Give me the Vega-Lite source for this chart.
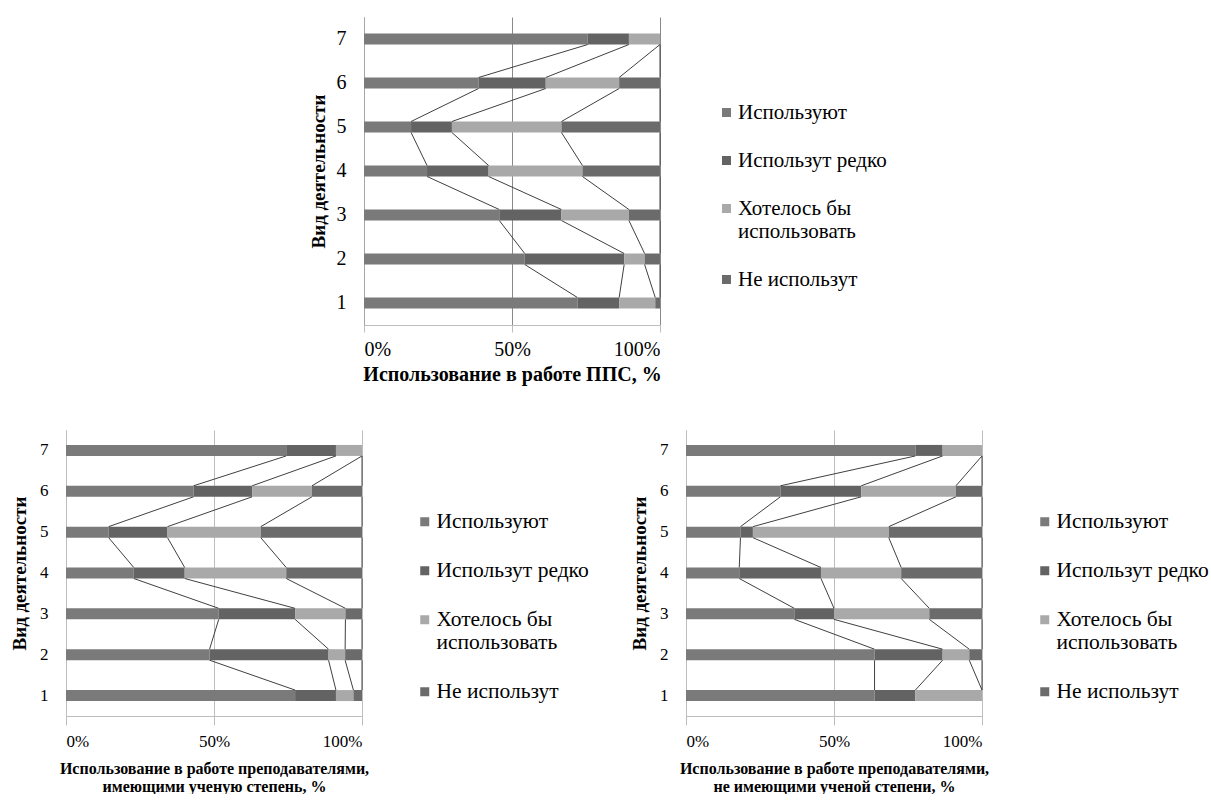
{
  "$schema": "https://vega.github.io/schema/vega-lite/v6.json",
  "padding": {"left": 10, "top": 17, "right": 0, "bottom": 0},
  "config": {
    "font": "Liberation Serif, Times New Roman, DejaVu Serif, serif",
    "view": {"stroke": null},
    "axis": {"labelFont": "Liberation Serif, Times New Roman, DejaVu Serif, serif", "titleFont": "Liberation Serif, Times New Roman, DejaVu Serif, serif", "labelColor": "#000000", "titleColor": "#000000", "titleFontWeight": "bold"},
    "legend": {"labelFont": "Liberation Serif, Times New Roman, DejaVu Serif, serif", "labelColor": "#000000", "symbolType": "square", "symbolSize": 81, "symbolStrokeWidth": 0, "rowPadding": 26, "labelLimit": 400, "labelOffset": 1, "title": null}
  },
  "datasets": {
    "d": [
      {"p": 1, "cat": 1, "k": 1, "s": "Используют", "v": 72.1},
      {"p": 1, "cat": 1, "k": 2, "s": "Использут редко", "v": 14.1},
      {"p": 1, "cat": 1, "k": 3, "s": "Хотелось бы использовать", "v": 12.2},
      {"p": 1, "cat": 1, "k": 4, "s": "Не использут", "v": 1.6},
      {"p": 1, "cat": 2, "k": 1, "s": "Используют", "v": 54.3},
      {"p": 1, "cat": 2, "k": 2, "s": "Использут редко", "v": 33.6},
      {"p": 1, "cat": 2, "k": 3, "s": "Хотелось бы использовать", "v": 6.9},
      {"p": 1, "cat": 2, "k": 4, "s": "Не использут", "v": 5.2},
      {"p": 1, "cat": 3, "k": 1, "s": "Используют", "v": 45.7},
      {"p": 1, "cat": 3, "k": 2, "s": "Использут редко", "v": 21.0},
      {"p": 1, "cat": 3, "k": 3, "s": "Хотелось бы использовать", "v": 22.8},
      {"p": 1, "cat": 3, "k": 4, "s": "Не использут", "v": 10.5},
      {"p": 1, "cat": 4, "k": 1, "s": "Используют", "v": 21.3},
      {"p": 1, "cat": 4, "k": 2, "s": "Использут редко", "v": 20.8},
      {"p": 1, "cat": 4, "k": 3, "s": "Хотелось бы использовать", "v": 31.7},
      {"p": 1, "cat": 4, "k": 4, "s": "Не использут", "v": 26.2},
      {"p": 1, "cat": 5, "k": 1, "s": "Используют", "v": 15.9},
      {"p": 1, "cat": 5, "k": 2, "s": "Использут редко", "v": 13.8},
      {"p": 1, "cat": 5, "k": 3, "s": "Хотелось бы использовать", "v": 37.0},
      {"p": 1, "cat": 5, "k": 4, "s": "Не использут", "v": 33.3},
      {"p": 1, "cat": 6, "k": 1, "s": "Используют", "v": 38.7},
      {"p": 1, "cat": 6, "k": 2, "s": "Использут редко", "v": 22.7},
      {"p": 1, "cat": 6, "k": 3, "s": "Хотелось бы использовать", "v": 24.8},
      {"p": 1, "cat": 6, "k": 4, "s": "Не использут", "v": 13.8},
      {"p": 1, "cat": 7, "k": 1, "s": "Используют", "v": 75.6},
      {"p": 1, "cat": 7, "k": 2, "s": "Использут редко", "v": 13.9},
      {"p": 1, "cat": 7, "k": 3, "s": "Хотелось бы использовать", "v": 10.5},
      {"p": 1, "cat": 7, "k": 4, "s": "Не использут", "v": 0},
      {"p": 2, "cat": 1, "k": 1, "s": "Используют", "v": 77.4},
      {"p": 2, "cat": 1, "k": 2, "s": "Использут редко", "v": 13.8},
      {"p": 2, "cat": 1, "k": 3, "s": "Хотелось бы использовать", "v": 5.9},
      {"p": 2, "cat": 1, "k": 4, "s": "Не использут", "v": 2.9},
      {"p": 2, "cat": 2, "k": 1, "s": "Используют", "v": 48.5},
      {"p": 2, "cat": 2, "k": 2, "s": "Использут редко", "v": 40.2},
      {"p": 2, "cat": 2, "k": 3, "s": "Хотелось бы использовать", "v": 5.6},
      {"p": 2, "cat": 2, "k": 4, "s": "Не использут", "v": 5.7},
      {"p": 2, "cat": 3, "k": 1, "s": "Используют", "v": 51.6},
      {"p": 2, "cat": 3, "k": 2, "s": "Использут редко", "v": 25.8},
      {"p": 2, "cat": 3, "k": 3, "s": "Хотелось бы использовать", "v": 17.0},
      {"p": 2, "cat": 3, "k": 4, "s": "Не использут", "v": 5.6},
      {"p": 2, "cat": 4, "k": 1, "s": "Используют", "v": 22.9},
      {"p": 2, "cat": 4, "k": 2, "s": "Использут редко", "v": 17.2},
      {"p": 2, "cat": 4, "k": 3, "s": "Хотелось бы использовать", "v": 34.3},
      {"p": 2, "cat": 4, "k": 4, "s": "Не использут", "v": 25.6},
      {"p": 2, "cat": 5, "k": 1, "s": "Используют", "v": 14.4},
      {"p": 2, "cat": 5, "k": 2, "s": "Использут редко", "v": 19.9},
      {"p": 2, "cat": 5, "k": 3, "s": "Хотелось бы использовать", "v": 31.5},
      {"p": 2, "cat": 5, "k": 4, "s": "Не использут", "v": 34.2},
      {"p": 2, "cat": 6, "k": 1, "s": "Используют", "v": 43.1},
      {"p": 2, "cat": 6, "k": 2, "s": "Использут редко", "v": 19.8},
      {"p": 2, "cat": 6, "k": 3, "s": "Хотелось бы использовать", "v": 20.2},
      {"p": 2, "cat": 6, "k": 4, "s": "Не использут", "v": 16.9},
      {"p": 2, "cat": 7, "k": 1, "s": "Используют", "v": 74.4},
      {"p": 2, "cat": 7, "k": 2, "s": "Использут редко", "v": 16.8},
      {"p": 2, "cat": 7, "k": 3, "s": "Хотелось бы использовать", "v": 8.8},
      {"p": 2, "cat": 7, "k": 4, "s": "Не использут", "v": 0},
      {"p": 3, "cat": 1, "k": 1, "s": "Используют", "v": 63.7},
      {"p": 3, "cat": 1, "k": 2, "s": "Использут редко", "v": 13.8},
      {"p": 3, "cat": 1, "k": 3, "s": "Хотелось бы использовать", "v": 22.5},
      {"p": 3, "cat": 1, "k": 4, "s": "Не использут", "v": 0},
      {"p": 3, "cat": 2, "k": 1, "s": "Используют", "v": 63.7},
      {"p": 3, "cat": 2, "k": 2, "s": "Использут редко", "v": 23.0},
      {"p": 3, "cat": 2, "k": 3, "s": "Хотелось бы использовать", "v": 9.0},
      {"p": 3, "cat": 2, "k": 4, "s": "Не использут", "v": 4.3},
      {"p": 3, "cat": 3, "k": 1, "s": "Используют", "v": 36.6},
      {"p": 3, "cat": 3, "k": 2, "s": "Использут редко", "v": 13.4},
      {"p": 3, "cat": 3, "k": 3, "s": "Хотелось бы использовать", "v": 32.2},
      {"p": 3, "cat": 3, "k": 4, "s": "Не использут", "v": 17.8},
      {"p": 3, "cat": 4, "k": 1, "s": "Используют", "v": 18.0},
      {"p": 3, "cat": 4, "k": 2, "s": "Использут редко", "v": 27.6},
      {"p": 3, "cat": 4, "k": 3, "s": "Хотелось бы использовать", "v": 27.1},
      {"p": 3, "cat": 4, "k": 4, "s": "Не использут", "v": 27.3},
      {"p": 3, "cat": 5, "k": 1, "s": "Используют", "v": 18.4},
      {"p": 3, "cat": 5, "k": 2, "s": "Использут редко", "v": 4.2},
      {"p": 3, "cat": 5, "k": 3, "s": "Хотелось бы использовать", "v": 45.9},
      {"p": 3, "cat": 5, "k": 4, "s": "Не использут", "v": 31.5},
      {"p": 3, "cat": 6, "k": 1, "s": "Используют", "v": 31.9},
      {"p": 3, "cat": 6, "k": 2, "s": "Использут редко", "v": 27.3},
      {"p": 3, "cat": 6, "k": 3, "s": "Хотелось бы использовать", "v": 32.0},
      {"p": 3, "cat": 6, "k": 4, "s": "Не использут", "v": 8.8},
      {"p": 3, "cat": 7, "k": 1, "s": "Используют", "v": 77.5},
      {"p": 3, "cat": 7, "k": 2, "s": "Использут редко", "v": 9.2},
      {"p": 3, "cat": 7, "k": 3, "s": "Хотелось бы использовать", "v": 13.3},
      {"p": 3, "cat": 7, "k": 4, "s": "Не использут", "v": 0}
    ]
  },
  "data": {"name": "d"},
  "center": true,
  "spacing": 46,
  "resolve": {"scale": {"color": "independent", "x": "independent", "y": "independent"}, "legend": {"color": "independent"}},
  "vconcat": [
    {
      "width": 296,
      "height": 308,
      "transform": [{"filter": "datum.p == 1"}],
      "layer": [
        {
          "mark": {"type": "bar", "size": 11},
          "encoding": {
            "x": {"field": "v", "type": "quantitative", "stack": "zero", "scale": {"domain": [0, 100], "nice": false, "clamp": true},
              "axis": {"values": [0, 50, 100], "labelExpr": "datum.value + '%'", "labelFontSize": 20, "titleFontSize": 20, "grid": true, "gridColor": "#8a8a8a", "domainColor": "#bdbdbd", "tickColor": "#bdbdbd", "tickSize": 7, "labelPadding": 7, "titlePadding": 5, "title": "Использование в работе ППС, %"}},
            "y": {"field": "cat", "type": "ordinal", "scale": {"domain": [7, 6, 5, 4, 3, 2, 1]}, "axis": {"labelFontSize": 20, "titleFontSize": 19, "domainColor": "#a6a6a6", "ticks": false, "labelPadding": 18, "labelAngle": 0, "titlePadding": 8, "title": "Вид деятельности"}},
            "color": {"field": "s", "type": "nominal", "scale": {"domain": ["Используют", "Использут редко", "Хотелось бы использовать", "Не использут"], "range": ["#7a7a7a", "#636363", "#a9a9a9", "#6b6b6b"]},
              "legend": {"orient": "none", "legendX": 328, "legendY": 61, "padding": 24, "labelFontSize": 21, "labelExpr": "datum.label == 'Хотелось бы использовать' ? ['Хотелось бы', 'использовать'] : datum.label"}},
            "order": {"field": "k", "type": "quantitative"}
          }
        },
        {
          "transform": [
            {"stack": "v", "groupby": ["cat"], "sort": [{"field": "k", "order": "ascending"}], "as": ["x0", "x1"]},
            {"window": [{"op": "lead", "field": "x1", "as": "nx"}, {"op": "lead", "field": "cat", "as": "ncat"}], "groupby": ["k"], "sort": [{"field": "cat", "order": "ascending"}]},
            {"filter": "datum.ncat != null"}
          ],
          "mark": {"type": "rule", "color": "#404040", "strokeWidth": 1, "yOffset": -5.5, "y2Offset": 5.5},
          "encoding": {
            "x": {"field": "x1", "type": "quantitative", "title": "Использование в работе ППС, %"},
            "x2": {"field": "nx"},
            "y": {"field": "cat", "type": "ordinal", "scale": {"domain": [7, 6, 5, 4, 3, 2, 1]}, "title": "Вид деятельности"},
            "y2": {"field": "ncat"}
          }
        }
      ]
    },
    {
      "spacing": 41,
      "resolve": {"scale": {"color": "independent", "x": "independent", "y": "independent"}, "legend": {"color": "independent"}},
      "hconcat": [
        {
          "width": 296,
          "height": 286,
          "transform": [{"filter": "datum.p == 2"}],
          "layer": [
            {
              "mark": {"type": "bar", "size": 11},
              "encoding": {
                "x": {"field": "v", "type": "quantitative", "stack": "zero", "scale": {"domain": [0, 100], "nice": false, "clamp": true},
                  "axis": {"values": [0, 50, 100], "labelExpr": "datum.value + '%'", "labelFontSize": 17, "titleFontSize": 16, "grid": true, "gridColor": "#bdbdbd", "domainColor": "#bdbdbd", "tickColor": "#bdbdbd", "tickSize": 9, "labelPadding": 8, "titlePadding": 11, "titleLineHeight": 18, "title": ["Использование в работе  преподавателями,", "имеющими ученую степень, %"]}},
                "y": {"field": "cat", "type": "ordinal", "scale": {"domain": [7, 6, 5, 4, 3, 2, 1]}, "axis": {"labelFontSize": 17, "titleFontSize": 19, "domainColor": "#bdbdbd", "ticks": false, "labelPadding": 18, "labelAngle": 0, "titlePadding": 10, "title": "Вид деятельности"}},
                "color": {"field": "s", "type": "nominal", "scale": {"domain": ["Используют", "Использут редко", "Хотелось бы использовать", "Не использут"], "range": ["#7a7a7a", "#636363", "#a9a9a9", "#6b6b6b"]},
                  "legend": {"orient": "none", "legendX": 348, "legendY": 81, "labelFontSize": 21.5, "labelExpr": "datum.label == 'Хотелось бы использовать' ? ['Хотелось бы', 'использовать'] : datum.label"}},
                "order": {"field": "k", "type": "quantitative"}
              }
            },
            {
              "transform": [
                {"stack": "v", "groupby": ["cat"], "sort": [{"field": "k", "order": "ascending"}], "as": ["x0", "x1"]},
                {"window": [{"op": "lead", "field": "x1", "as": "nx"}, {"op": "lead", "field": "cat", "as": "ncat"}], "groupby": ["k"], "sort": [{"field": "cat", "order": "ascending"}]},
                {"filter": "datum.ncat != null"}
              ],
              "mark": {"type": "rule", "color": "#404040", "strokeWidth": 1, "yOffset": -5.5, "y2Offset": 5.5},
              "encoding": {
                "x": {"field": "x1", "type": "quantitative", "title": ["Использование в работе  преподавателями,", "имеющими ученую степень, %"]},
                "x2": {"field": "nx"},
                "y": {"field": "cat", "type": "ordinal", "scale": {"domain": [7, 6, 5, 4, 3, 2, 1]}, "title": "Вид деятельности"},
                "y2": {"field": "ncat"}
              }
            }
          ]
        },
        {
          "width": 296,
          "height": 286,
          "transform": [{"filter": "datum.p == 3"}],
          "layer": [
            {
              "mark": {"type": "bar", "size": 11},
              "encoding": {
                "x": {"field": "v", "type": "quantitative", "stack": "zero", "scale": {"domain": [0, 100], "nice": false, "clamp": true},
                  "axis": {"values": [0, 50, 100], "labelExpr": "datum.value + '%'", "labelFontSize": 17, "titleFontSize": 16, "grid": true, "gridColor": "#bdbdbd", "domainColor": "#bdbdbd", "tickColor": "#bdbdbd", "tickSize": 9, "labelPadding": 8, "titlePadding": 11, "titleLineHeight": 18, "title": ["Использование в работе преподавателями,", "не имеющими ученой степени, %"]}},
                "y": {"field": "cat", "type": "ordinal", "scale": {"domain": [7, 6, 5, 4, 3, 2, 1]}, "axis": {"labelFontSize": 17, "titleFontSize": 19, "domainColor": "#bdbdbd", "ticks": false, "labelPadding": 18, "labelAngle": 0, "titlePadding": 10, "title": "Вид деятельности"}},
                "color": {"field": "s", "type": "nominal", "scale": {"domain": ["Используют", "Использут редко", "Хотелось бы использовать", "Не использут"], "range": ["#7a7a7a", "#636363", "#a9a9a9", "#6b6b6b"]},
                  "legend": {"orient": "none", "legendX": 348, "legendY": 81, "labelFontSize": 21.5, "labelExpr": "datum.label == 'Хотелось бы использовать' ? ['Хотелось бы', 'использовать'] : datum.label"}},
                "order": {"field": "k", "type": "quantitative"}
              }
            },
            {
              "transform": [
                {"stack": "v", "groupby": ["cat"], "sort": [{"field": "k", "order": "ascending"}], "as": ["x0", "x1"]},
                {"window": [{"op": "lead", "field": "x1", "as": "nx"}, {"op": "lead", "field": "cat", "as": "ncat"}], "groupby": ["k"], "sort": [{"field": "cat", "order": "ascending"}]},
                {"filter": "datum.ncat != null"}
              ],
              "mark": {"type": "rule", "color": "#404040", "strokeWidth": 1, "yOffset": -5.5, "y2Offset": 5.5},
              "encoding": {
                "x": {"field": "x1", "type": "quantitative", "title": ["Использование в работе преподавателями,", "не имеющими ученой степени, %"]},
                "x2": {"field": "nx"},
                "y": {"field": "cat", "type": "ordinal", "scale": {"domain": [7, 6, 5, 4, 3, 2, 1]}, "title": "Вид деятельности"},
                "y2": {"field": "ncat"}
              }
            }
          ]
        }
      ]
    }
  ]
}
